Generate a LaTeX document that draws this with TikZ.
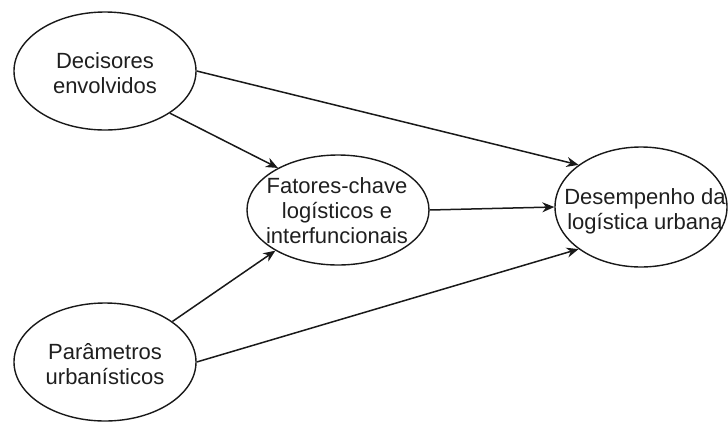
\documentclass[tikz,border=0pt]{standalone}
\usepackage{fontspec}
\setmainfont{Liberation Sans}
\usetikzlibrary{shapes.geometric,arrows.meta}
\begin{document}
\begin{tikzpicture}[x=1pt,y=-1pt,
  ell/.style={draw=black!90,line width=1.4pt,ellipse,inner sep=0pt,minimum width=182pt,minimum height=118pt},
  txt/.style={align=center,inner sep=0pt,text=black!88,font=\fontsize{22}{25}\selectfont},
  arr/.style={draw=black!90,line width=1.5pt,-{Stealth[length=12pt,width=10pt]}}]
\useasboundingbox[fill=white] (0,0) rectangle (728,421);
\node[ell] (dec) at (105,71) {};
\node[ell] (par) at (105,362) {};
\node[ell,minimum height=110pt] (fat) at (338,210) {};
\node[ell,minimum width=172pt,minimum height=120pt] (des) at (641,207) {};
\node[txt] (tdec) at (105,73) {Decisores\\envolvidos};
\node[txt] (tpar) at (105,364) {Parâmetros\\urbanísticos};
\node[txt] (tfat) at (337,211) {Fatores-chave\\logísticos e\\interfuncionais};
\node[txt] (tdes) at (645,211) {Desempenho da\\logística urbana};
\draw[arr] (dec.-33.5) -- (fat.145);
\draw[arr] (dec.east) -- (des.146);
\draw[arr] (par.31) -- (fat.213);
\draw[arr] (par.east) -- (des.214);
\draw[arr] (fat.east) -- (des.west);
\end{tikzpicture}
\end{document}
